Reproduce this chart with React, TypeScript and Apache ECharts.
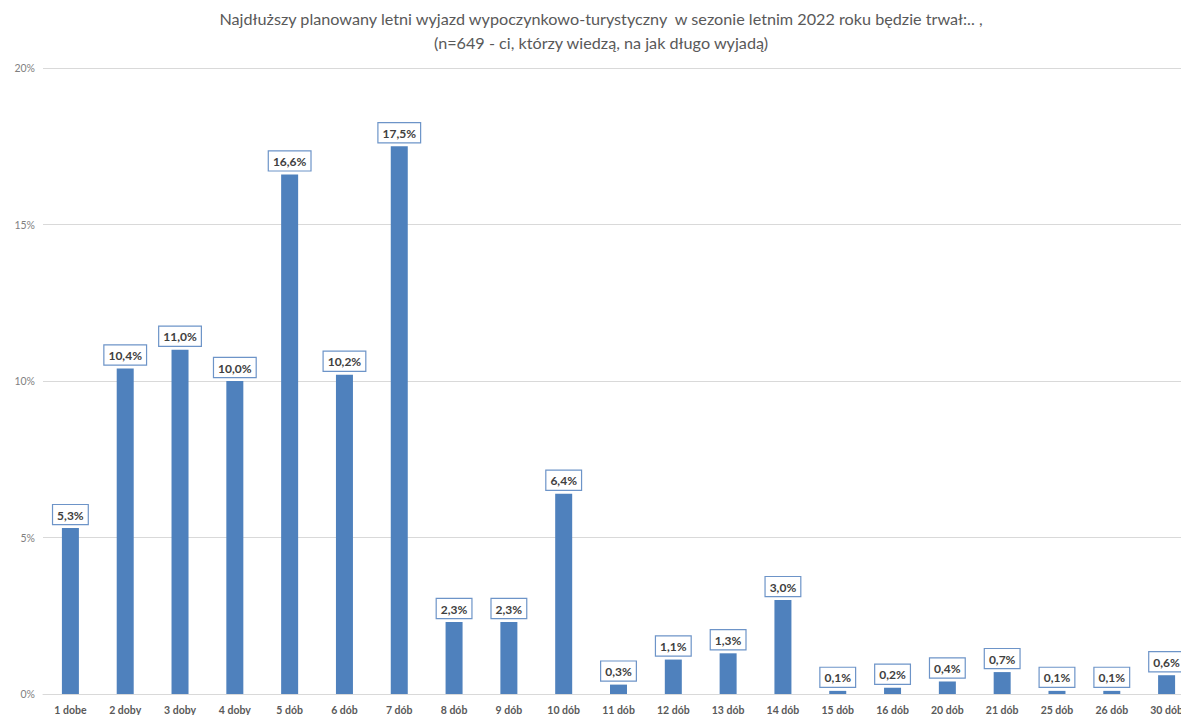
import React, { useEffect, useRef } from "react";
import * as echarts from "echarts";

const categories = ["1 dobe", "2 doby", "3 doby", "4 doby", "5 dób", "6 dób", "7 dób", "8 dób", "9 dób", "10 dób", "11 dób", "12 dób", "13 dób", "14 dób", "15 dób", "16 dób", "20 dób", "21 dób", "25 dób", "26 dób", "30 dób"];
const values = [5.3, 10.4, 11.0, 10.0, 16.6, 10.2, 17.5, 2.3, 2.3, 6.4, 0.3, 1.1, 1.3, 3.0, 0.1, 0.2, 0.4, 0.7, 0.1, 0.1, 0.6];
const titleText = "Najdłuższy planowany letni wyjazd wypoczynkowo-turystyczny  w sezonie letnim 2022 roku będzie trwał:.. ,\n(n=649 - ci, którzy wiedzą, na jak długo wyjadą)";

export default function App() {
  const ref = useRef<HTMLDivElement>(null);
  useEffect(() => {
    const chart = echarts.init(ref.current!, null, { renderer: "svg" });
    chart.setOption({
      animation: false,
      title: {
        text: titleText,
        left: 596,
        textAlign: "center",
        top: 1,
        textStyle: { fontFamily: "Lato", fontSize: 16.2, fontWeight: "normal", color: "#595959", lineHeight: 24, align: "center" },
      },
      grid: { left: 43, right: 0, top: 68, bottom: 20, containLabel: false },
      xAxis: {
        type: "category",
        data: categories,
        axisLine: { lineStyle: { color: "#d9d9d9" } },
        axisTick: { show: false },
        axisLabel: { color: "#595959", fontFamily: "Lato", fontWeight: "bold", fontSize: 10.5, margin: 10, interval: 0 },
      },
      yAxis: {
        type: "value",
        min: 0,
        max: 20,
        interval: 5,
        axisLine: { show: false },
        axisTick: { show: false },
        splitLine: { lineStyle: { color: "#d9d9d9" } },
        axisLabel: { color: "#7f7f7f", fontFamily: "Lato", fontSize: 10.5, margin: 8, formatter: (v: number) => v + "%" },
      },
      series: [
        {
          type: "bar",
          data: values,
          barWidth: 17,
          itemStyle: { color: "#4f81bd" },
          label: {
            show: true,
            position: "top",
            distance: 4,
            formatter: (p: any) => p.value.toFixed(1).replace(".", ",") + "%",
            color: "#404040",
            fontFamily: "Lato",
            fontWeight: "bold",
            fontSize: 12,
            backgroundColor: "#ffffff",
            borderColor: "#6d94c8",
            borderWidth: 1.2,
            padding: [4, 4, 3, 4],
          },
        },
      ],
    });
    return () => chart.dispose();
  }, []);
  return (
    <div style={{ position: "fixed", left: 0, top: 0, width: 1181, height: 715, overflow: "hidden", background: "#fff" }}>
      <div ref={ref} style={{ width: 1194, height: 715 }} />
    </div>
  );
}
